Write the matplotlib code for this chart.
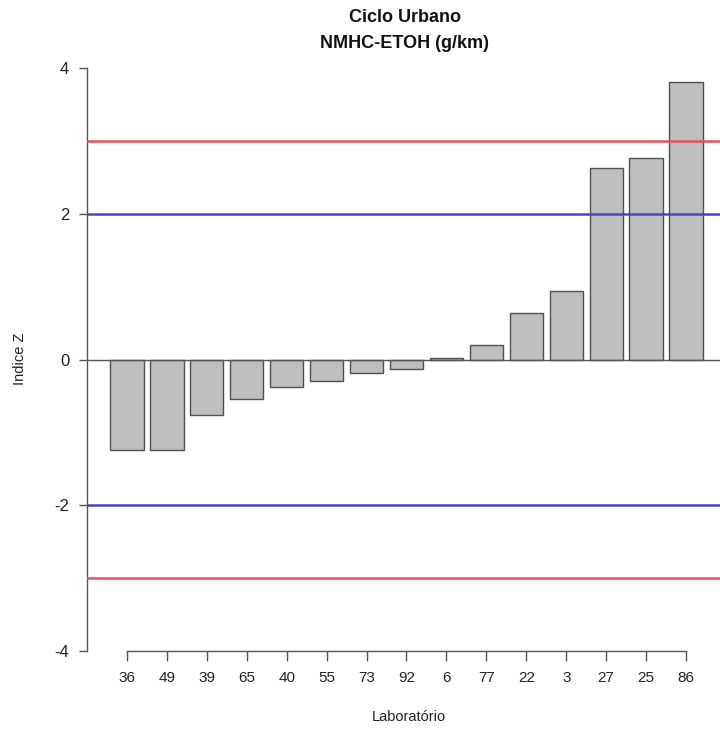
import matplotlib
matplotlib.use("Agg")
import matplotlib.pyplot as plt
import numpy as np

plt.rcParams['font.family'] = ['Liberation Sans', 'DejaVu Sans']

# dados
laboratorios = ['36', '49', '39', '65', '40', '55', '73', '92', '6', '77',
                '22', '3', '27', '25', '86']
indice_z = [-1.24, -1.24, -0.76, -0.54, -0.38, -0.29, -0.19, -0.13, 0.02,
            0.20, 0.64, 0.94, 2.63, 2.77, 3.81]
limites_vermelhos = [3, -3]
limites_azuis = [2, -2]
y_ticks = [-4, -2, 0, 2, 4]

W, H = 720, 729
fig = plt.figure(figsize=(W / 100, H / 100), dpi=100)
ax = fig.add_axes([87 / W, 78 / H, 633 / W, 583 / H])

x = np.arange(len(indice_z))
ax.bar(x, indice_z, width=0.833, color='#bebebe', edgecolor='#505050',
       linewidth=1.0, zorder=2)

ax.axhline(0, color='#555555', lw=1.0, zorder=3)
for v in limites_vermelhos:
    ax.axhline(v, color='#e8505a', lw=1.8, zorder=4)
for v in limites_azuis:
    ax.axhline(v, color='#4646c8', lw=1.8, zorder=4)

ax.set_xlim(-1.0, 14.85)
ax.set_ylim(-4, 4)

for s in ['top', 'right']:
    ax.spines[s].set_visible(False)
ax.spines['left'].set_bounds(-4, 4)
ax.spines['bottom'].set_bounds(0, len(x) - 1)
for s in ['left', 'bottom']:
    ax.spines[s].set_color('#555555')
    ax.spines[s].set_linewidth(1.0)

ax.set_xticks(x)
ax.set_xticklabels(laboratorios)
ax.set_yticks(y_ticks)
ax.set_yticklabels([str(t) for t in y_ticks])
ax.tick_params(axis='x', length=7.2, width=1.0, color='#555555', pad=7,
               labelsize=11, labelcolor='#222222')
ax.tick_params(axis='y', length=5.8, width=1.0, color='#555555', pad=7,
               labelsize=12, labelcolor='#222222')

fig.text(20 / W, 1 - 359 / H, 'Indice Z', rotation=90, ha='center',
         va='center', fontsize=10.5, color='#222222')
fig.text(409 / W, 1 - 717 / H, 'Laboratório', ha='center', va='center',
         fontsize=10.5, color='#222222')
fig.text(405 / W, 1 - 18 / H, 'Ciclo Urbano', ha='center', va='center',
         fontsize=13, fontweight='bold', color='#111111')
fig.text(405 / W, 1 - 43 / H, 'NMHC-ETOH (g/km)', ha='center', va='center',
         fontsize=13, fontweight='bold', color='#111111')

fig.savefig('out.png', dpi=100)
